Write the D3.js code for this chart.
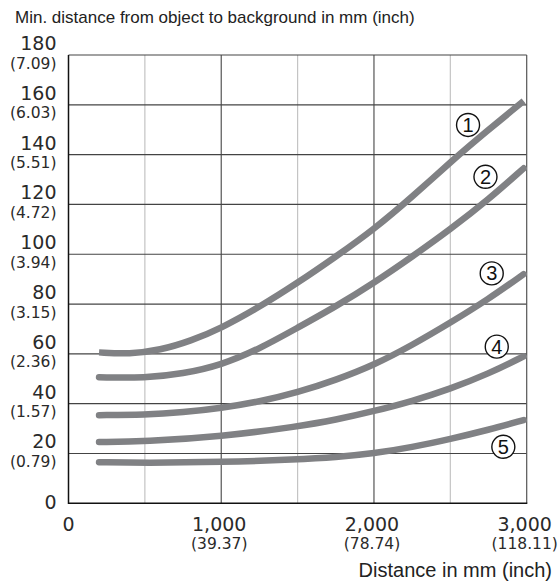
<!DOCTYPE html>
<html>
<head>
<meta charset="utf-8">
<script src="https://cdn.jsdelivr.net/npm/d3@7"></script>
<style>
  html, body { margin: 0; padding: 0; background: #fff; }
  svg { display: block; }
</style>
</head>
<body>
<svg id="chart" width="560" height="583"></svg>
<script>
// ---- data ----
const yTicks = [0, 20, 40, 60, 80, 100, 120, 140, 160, 180];
const yTickLabels = ["0", "20", "40", "60", "80", "100", "120", "140", "160", "180"];
const yTickInch = ["", "(0.79)", "(1.57)", "(2.36)", "(3.15)", "(3.94)", "(4.72)", "(5.51)", "(6.03)", "(7.09)"];
const xTicks = [0, 1000, 2000, 3000];
const xTickLabels = ["0", "1,000", "2,000", "3,000"];
const xTickInch = ["", "(39.37)", "(78.74)", "(118.11)"];
const xMinorGrid = [500, 1500, 2500];
const xMajorGrid = [1000, 2000];
const seriesNames = ["1", "2", "3", "4", "5"];
const curve1 = [[200, 60.6], [400, 59.9], [600, 61.5], [800, 65.2], [1000, 70.3], [1250, 78.8], [1500, 88.5], [1750, 99], [2000, 110], [2250, 123], [2500, 137], [2750, 150], [2980, 161.5]];
const curve2 = [[200, 50.6], [500, 50.3], [750, 52], [1000, 55.5], [1250, 62], [1500, 70.5], [1750, 79], [2000, 88.5], [2250, 99], [2500, 110], [2750, 122], [2980, 134.5]];
const curve3 = [[200, 35.4], [500, 35.5], [750, 36.5], [1000, 38.2], [1250, 40.8], [1500, 44.5], [1750, 49.5], [2000, 55.5], [2250, 63.5], [2500, 72.5], [2750, 82], [2980, 92]];
const curve4 = [[200, 24.6], [500, 24.8], [1000, 26.8], [1500, 30.8], [1750, 33.5], [2000, 37], [2250, 41], [2500, 46], [2750, 52], [2980, 59]];
const curve5 = [[200, 16.5], [500, 16.2], [1000, 16.5], [1500, 17.6], [1750, 18.5], [2000, 20], [2250, 22.5], [2500, 25.8], [2750, 29.5], [2980, 33.4]];
const labelPos = [[2616, 151.9], [2730, 131.1], [2771, 92.3], [2804, 62.9], [2847, 22.7]];

// ---- layout ----
const svg = d3.select("#chart");
const x = d3.scaleLinear().domain([0, 3000]).range([68.5, 526.7]);
const y = d3.scaleLinear().domain([0, 180]).range([503.3, 55]);
const numFont = "'DejaVu Sans', sans-serif";
const txtFont = "'Liberation Sans', Arial, sans-serif";

// vertical grid
svg.append("g").selectAll("line").data(xMinorGrid).join("line")
  .attr("x1", d => x(d)).attr("x2", d => x(d))
  .attr("y1", y(180)).attr("y2", y(0))
  .attr("stroke", "#c4c4c4").attr("stroke-width", 1.2);
svg.append("g").selectAll("line").data(xMajorGrid).join("line")
  .attr("x1", d => x(d)).attr("x2", d => x(d))
  .attr("y1", y(180)).attr("y2", y(0))
  .attr("stroke", "#555").attr("stroke-width", 1.2);
// horizontal grid
svg.append("g").selectAll("line").data(yTicks.filter(d => d > 0)).join("line")
  .attr("x1", x(0)).attr("x2", x(3000))
  .attr("y1", d => y(d)).attr("y2", d => y(d))
  .attr("stroke", "#444").attr("stroke-width", 1.2);
// right border
svg.append("line").attr("x1", x(3000)).attr("x2", x(3000)).attr("y1", y(180)).attr("y2", y(0))
  .attr("stroke", "#555").attr("stroke-width", 1.2);
// axes lines
svg.append("line").attr("x1", x(0)).attr("x2", x(0)).attr("y1", y(180)).attr("y2", y(0) + 0.6)
  .attr("stroke", "#111").attr("stroke-width", 1.5);
svg.append("line").attr("x1", x(0)).attr("x2", x(3000) + 0.6).attr("y1", y(0)).attr("y2", y(0))
  .attr("stroke", "#111").attr("stroke-width", 1.5);

// y tick labels
const yg = svg.append("g").attr("fill", "#2a2a2a").attr("text-anchor", "end");
yg.selectAll("text.num").data(yTicks).join("text").attr("class", "num")
  .attr("x", 56.5).attr("y", d => d === 0 ? y(d) + 6 : y(d) - 5)
  .attr("font-family", numFont).attr("font-size", 19)
  .text((d, i) => yTickLabels[i]);
yg.selectAll("text.inch").data(yTicks.filter(d => d > 0)).join("text").attr("class", "inch")
  .attr("x", 56.5).attr("y", d => y(d) + 13.5)
  .attr("font-family", numFont).attr("font-size", 15.5)
  .text(d => yTickInch[yTicks.indexOf(d)]);

// x tick labels
const xg = svg.append("g").attr("fill", "#2a2a2a").attr("text-anchor", "middle");
xg.selectAll("text.num").data(xTicks).join("text").attr("class", "num")
  .attr("x", d => d === 0 ? x(d) : x(d) - 2).attr("y", 530.5)
  .attr("font-family", numFont).attr("font-size", 19)
  .text((d, i) => xTickLabels[i]);
xg.selectAll("text.inch").data(xTicks.filter(d => d > 0)).join("text").attr("class", "inch")
  .attr("x", d => x(d) - 2).attr("y", 549)
  .attr("font-family", numFont).attr("font-size", 15.5)
  .text(d => xTickInch[xTicks.indexOf(d)]);

// axis titles
svg.append("text").attr("x", 15).attr("y", 22.5)
  .attr("font-family", txtFont).attr("font-size", 17).attr("fill", "#222")
  .text("Min. distance from object to background in mm (inch)");
svg.append("text").attr("x", 552).attr("y", 576.5).attr("text-anchor", "end")
  .attr("font-family", txtFont).attr("font-size", 20).attr("fill", "#222")
  .text("Distance in mm (inch)");

// curves
const line = d3.line().x(d => x(d[0])).y(d => y(d[1])).curve(d3.curveBasis);
const curves = [curve1, curve2, curve3, curve4, curve5];
svg.append("g").selectAll("path").data(curves).join("path")
  .attr("d", line)
  .attr("fill", "none").attr("stroke", "#808184").attr("stroke-width", 6.5)
  .attr("stroke-linecap", (d, i) => i === 0 ? "butt" : "round")
  .attr("stroke-linejoin", "round");

// circled labels
const lg = svg.append("g").selectAll("g").data(labelPos).join("g")
  .attr("transform", d => `translate(${x(d[0])},${y(d[1])})`);
lg.append("circle").attr("r", 11.5).attr("fill", "#fff").attr("stroke", "#111").attr("stroke-width", 1.4);
lg.append("text").attr("text-anchor", "middle").attr("y", 7)
  .attr("font-family", txtFont).attr("font-size", 20).attr("fill", "#111")
  .text((d, i) => seriesNames[i]);
</script>
</body>
</html>
